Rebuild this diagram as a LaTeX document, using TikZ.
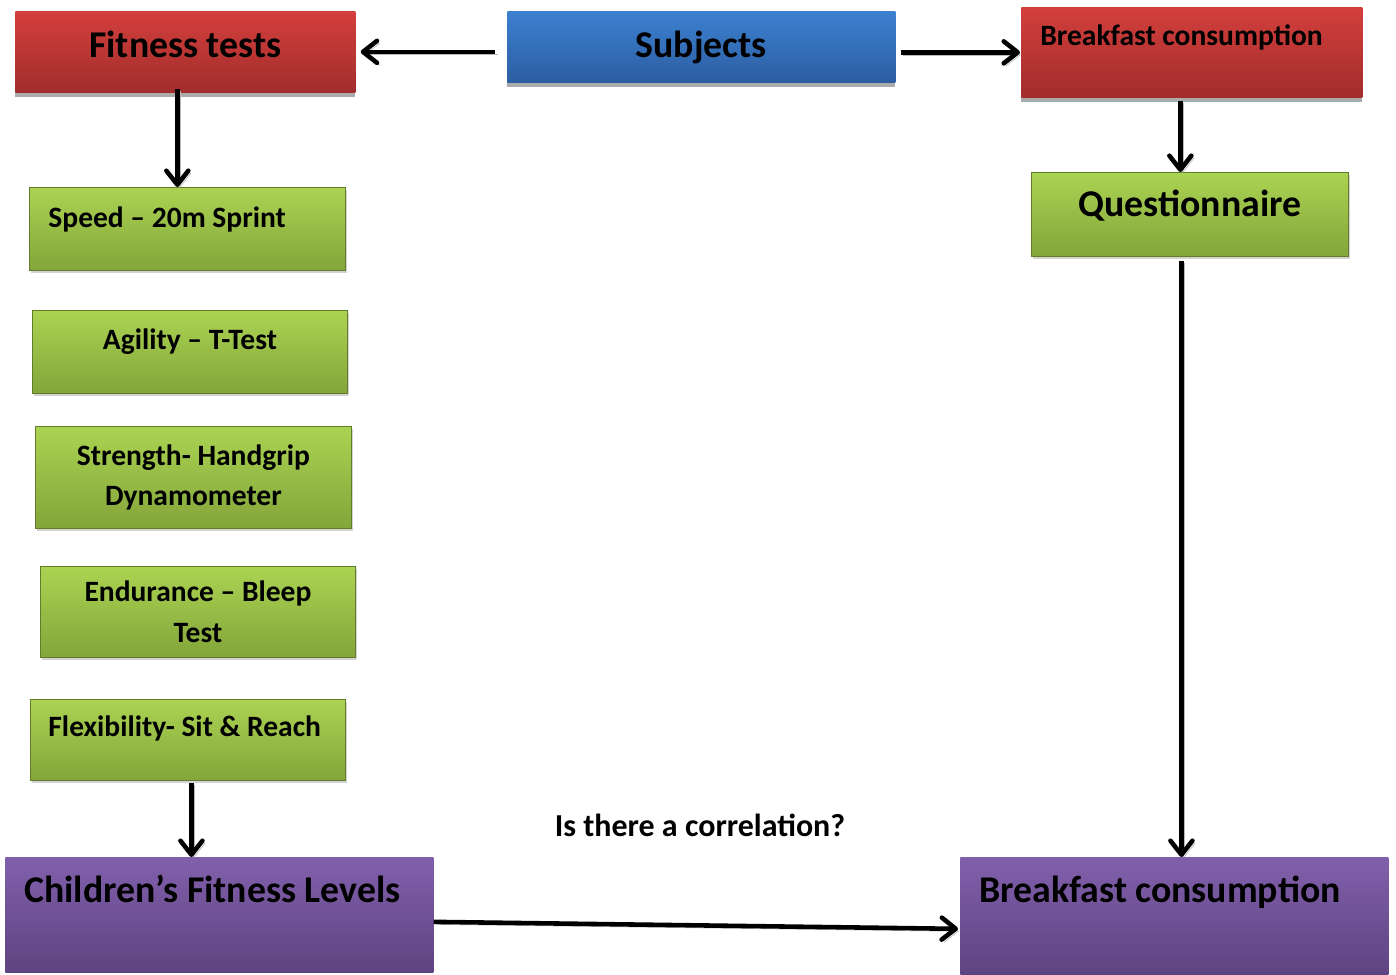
\documentclass[tikz,border=0pt]{standalone}
\usepackage{fontspec}
\setmainfont{Carlito}
\usepackage{tikz}
\usetikzlibrary{arrows.meta,positioning,shadows}
\usepackage{xcolor}
\definecolor{ftRedTop}{HTML}{D33F3C}
\definecolor{ftRedBot}{HTML}{A12D2C}
\definecolor{ftBlueTop}{HTML}{3C80D0}
\definecolor{ftBlueBot}{HTML}{2C5EA2}
\definecolor{ftGreenTop}{HTML}{ABD352}
\definecolor{ftGreenBot}{HTML}{83A53A}
\definecolor{ftPurpTop}{HTML}{8160AB}
\definecolor{ftPurpBot}{HTML}{5E4381}
\tikzset{
  arr/.style={-{Straight Barb[length=2.8mm,width=4.4mm,line width=0pt 1,round]}, line width=2.6pt, draw=black,
    preaction={draw=black!28, transform canvas={shift={(0.05,-0.05)}}}},
  boxbase/.style={anchor=north west, inner xsep=0.38cm, inner ysep=0pt, text=black},
  bigtxt/.style={font=\fontsize{21.5}{25}\selectfont\bfseries},
  midtxt/.style={font=\fontsize{16.8}{23.2}\selectfont\bfseries},
  redbox/.style={boxbase, top color=ftRedTop, bottom color=ftRedBot, drop shadow={shadow xshift=0cm, shadow yshift=-0.1cm, fill=black!33, opacity=1}},
  bluebox/.style={boxbase, top color=ftBlueTop, bottom color=ftBlueBot, drop shadow={shadow xshift=0cm, shadow yshift=-0.1cm, fill=black!33, opacity=1}},
  greenbox/.style={boxbase, midtxt, top color=ftGreenTop, bottom color=ftGreenBot, draw=ftGreenBot!75!black, line width=0.5pt, drop shadow={shadow xshift=0.03cm, shadow yshift=-0.05cm, opacity=0.35}},
  purpbox/.style={boxbase, bigtxt, top color=ftPurpTop, bottom color=ftPurpBot}
}

\begin{document}
\begin{tikzpicture}[x=1cm,y=1cm]
  \useasboundingbox (0,0) rectangle (27.92,-19.48);
  % top row
  \node[redbox, bigtxt, text width=6.04cm, align=flush center, text height=0.92cm, text depth=0.70cm] (fit) at (0.30,-0.22) {Fitness tests};
  \node[bluebox, bigtxt, text width=7.00cm, align=flush center, text height=0.92cm, text depth=0.50cm] (sub) at (10.14,-0.22) {Subjects};
  \node[redbox, font=\fontsize{16.8}{20}\selectfont\bfseries, text width=6.06cm, align=flush left, text height=0.76cm, text depth=1.04cm] (bt) at (20.42,-0.14) {Breakfast consumption};
  % fitness test boxes
  \node[greenbox, text width=5.56cm, align=flush left, text height=0.80cm, text depth=0.86cm] (spd) at (0.58,-3.74) {Speed -- 20m Sprint};
  \node[greenbox, text width=5.54cm, align=flush center, text height=0.78cm, text depth=0.88cm] (agi) at (0.64,-6.20) {Agility -- T-Test};
  \node[greenbox, text width=5.56cm, align=flush center, minimum height=2.04cm] (str) at (0.70,-8.52) {Strength- Handgrip\\Dynamometer};
  \node[greenbox, text width=5.54cm, align=flush center, minimum height=1.82cm] (end) at (0.80,-11.32) {Endurance -- Bleep\\Test};
  \node[greenbox, inner xsep=0.30cm, text width=5.70cm, align=flush left, text height=0.74cm, text depth=0.88cm] (flx) at (0.60,-13.98) {\hspace*{0.06cm}Flexibility- Sit \& Reach};
  \node[greenbox, bigtxt, text width=5.58cm, align=flush center, text height=0.88cm, text depth=0.80cm] (que) at (20.62,-3.44) {Questionnaire};
  % outcome boxes
  \node[purpbox, text width=7.80cm, align=flush left, text height=0.90cm, text depth=1.40cm] (chl) at (0.10,-17.14) {Children’s Fitness Levels};
  \node[purpbox, text width=7.80cm, align=flush left, text height=0.90cm, text depth=1.44cm] (bb) at (19.20,-17.14) {Breakfast consumption};
  \node[font=\fontsize{18.2}{22}\selectfont\bfseries] (cor) at (14.00,-16.50) {Is there a correlation?};
  % connectors
  \draw[arr, shorten <=0.24cm, shorten >=0.1cm] (sub.west |- fit.east) -- (fit.east);
  \draw[arr, shorten <=0.1cm, shorten >=0.02cm] (sub.east |- bt.west) -- (bt.west);
  \draw[arr, shorten <=-0.08cm] ([xshift=-0.16cm]fit.south) -- ([xshift=-0.16cm]fit.south |- spd.north);
  \draw[arr, shorten <=0.06cm] ([xshift=-0.23cm]bt.south) -- ([xshift=-0.23cm]bt.south |- que.north);
  \draw[arr, shorten <=0.08cm] ([xshift=-0.17cm]que.south) -- ([xshift=-0.17cm]que.south |- bb.north);
  \draw[arr, shorten <=0.04cm] ([xshift=0.07cm]flx.south) -- ([xshift=0.07cm]flx.south |- chl.north);
  \draw[arr, shorten >=0.04cm] ([yshift=-0.14cm]chl.east) -- ([yshift=-0.26cm]bb.west);
\end{tikzpicture}
\end{document}
